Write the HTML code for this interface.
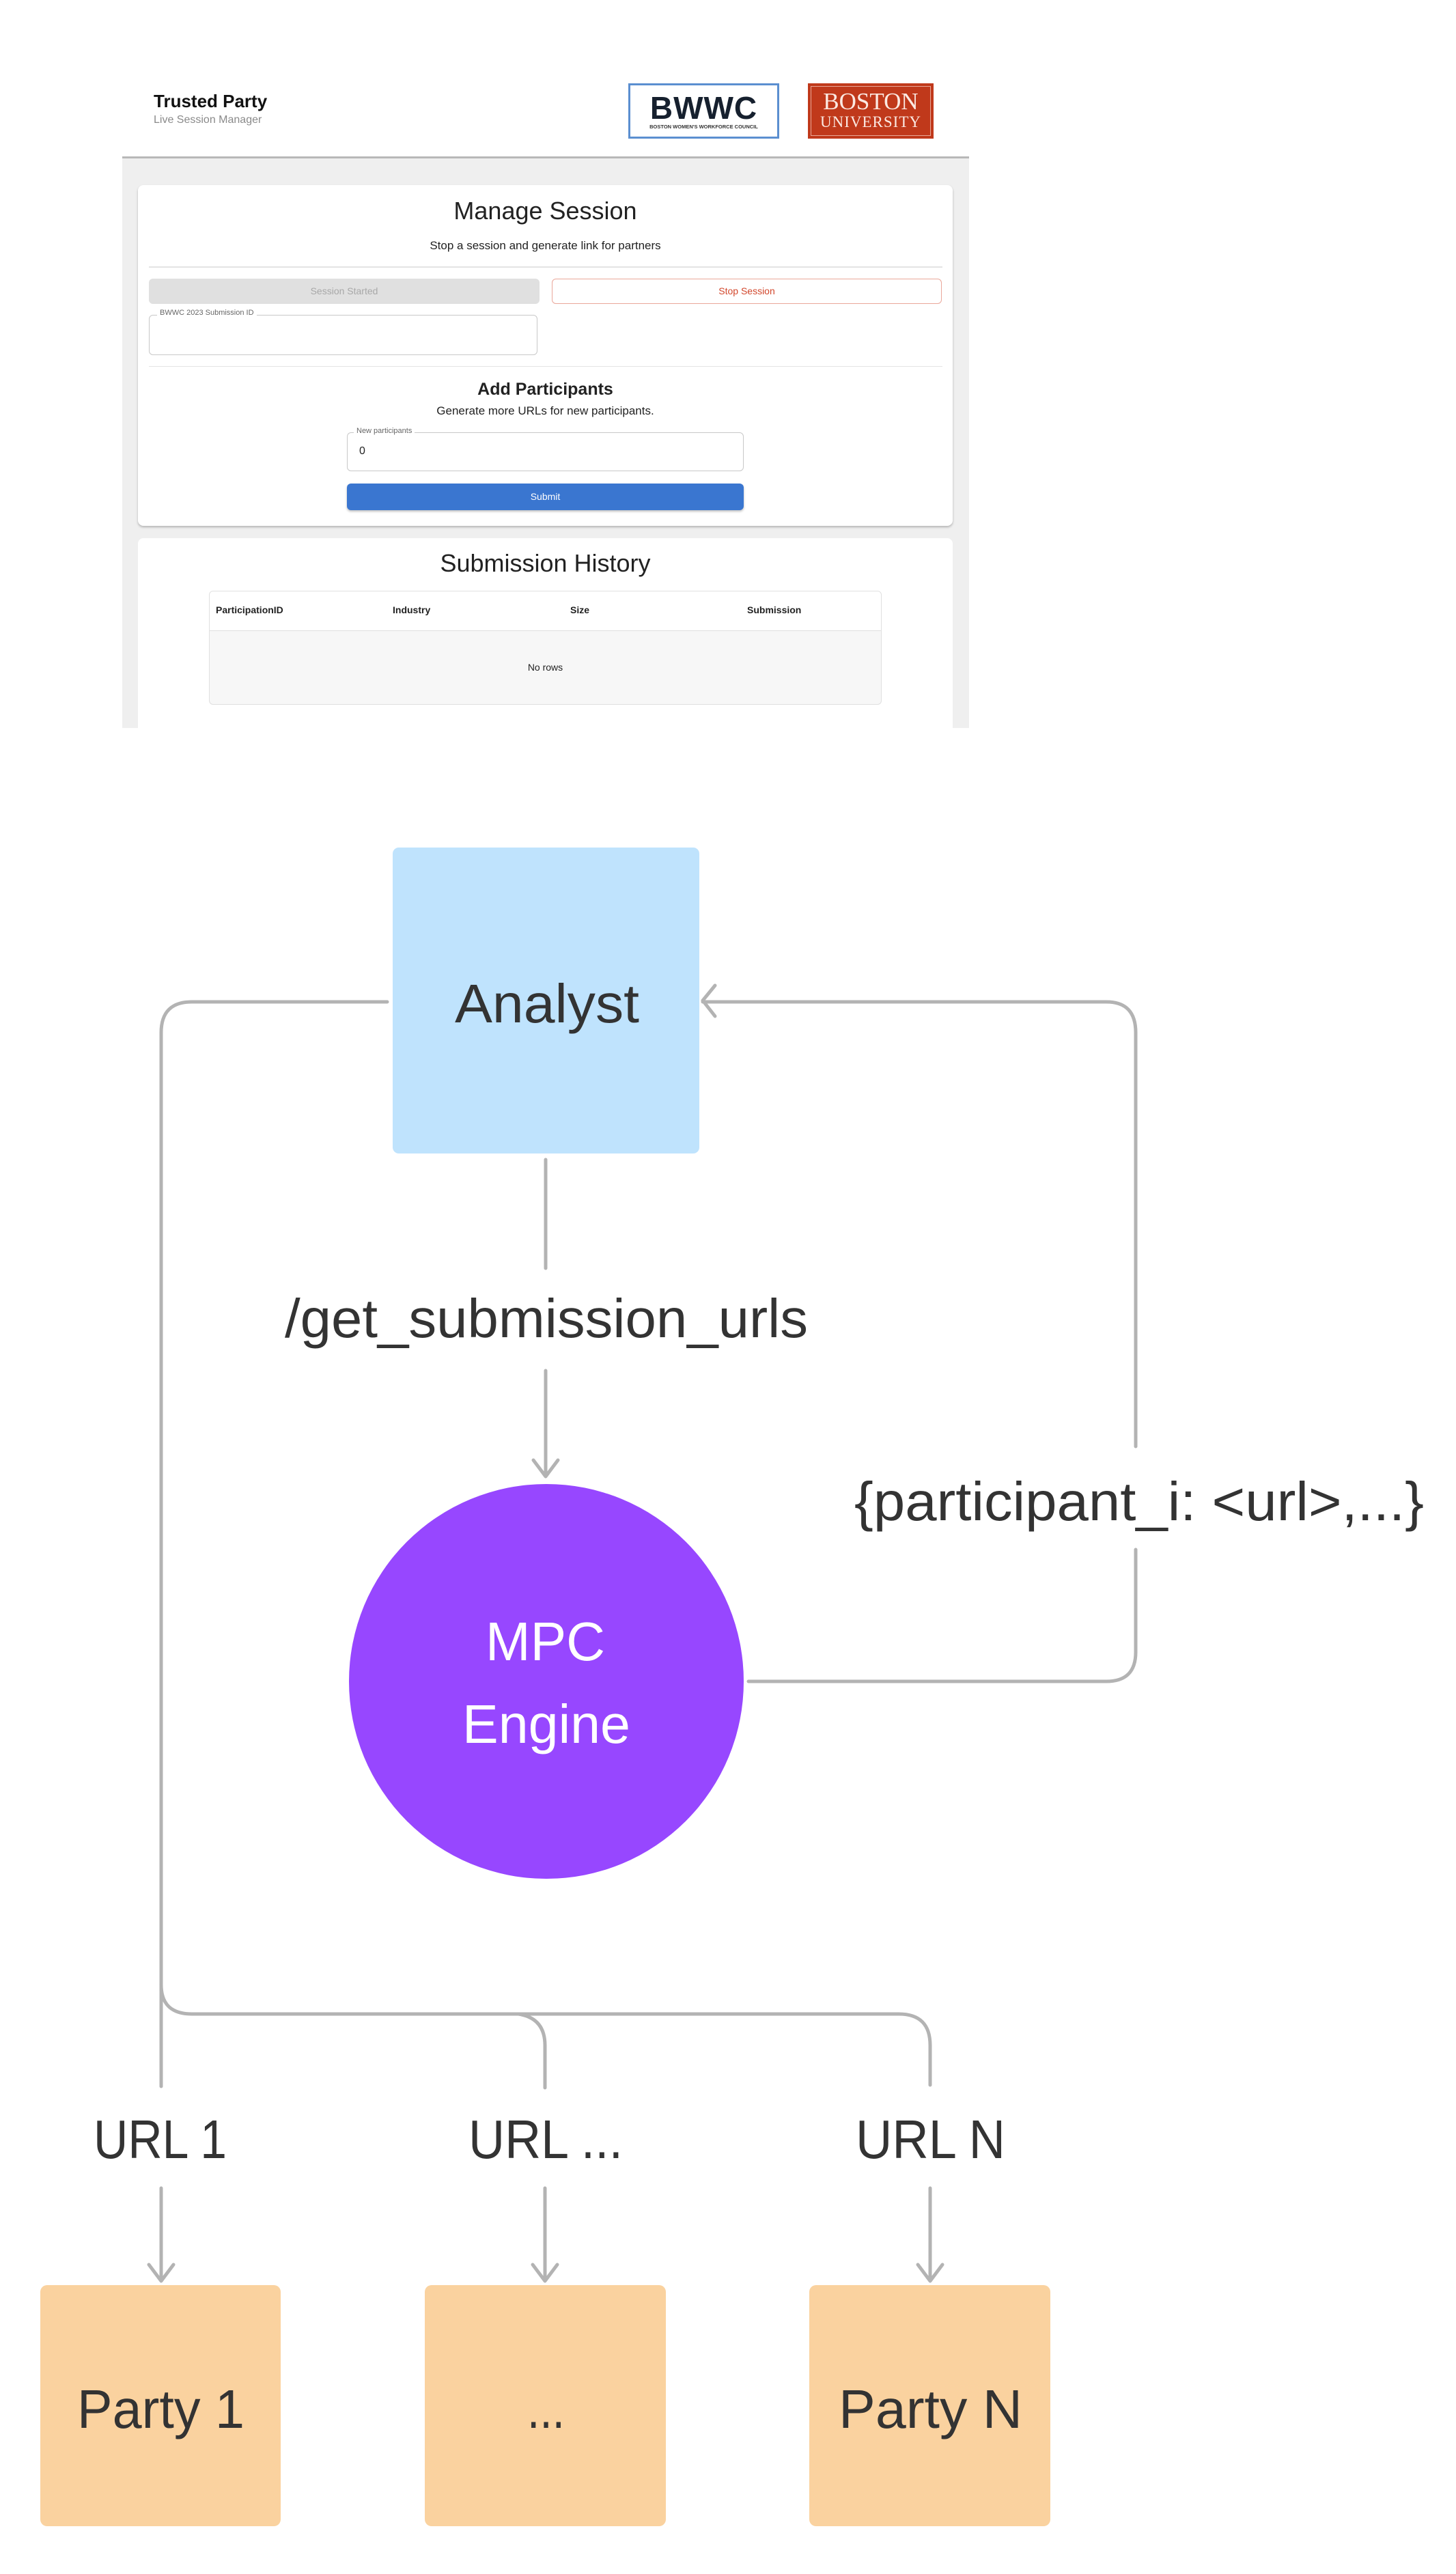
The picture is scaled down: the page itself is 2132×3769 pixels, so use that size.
<!DOCTYPE html>
<html><head><meta charset="utf-8">
<style>
html,body{margin:0;padding:0;background:#fff;}
body{width:2132px;height:3769px;position:relative;overflow:hidden;font-family:"Liberation Sans",Arial,sans-serif;}
.a{position:absolute;}
.c{text-align:center;}
</style></head><body>
<!-- screenshot panel -->
<div class="a" style="left:179px;top:95px;width:1240px;height:135px;background:#fff;"></div>
<div class="a" style="left:179px;top:229px;width:1240px;height:837px;background:#efefef;border-top:3px solid #b8b8b8;box-sizing:border-box;"></div>
<div class="a" style="left:225px;top:133px;font-size:26px;font-weight:bold;color:#111;">Trusted Party</div>
<div class="a" style="left:225px;top:167px;font-size:16px;color:#8a8a8a;">Live Session Manager</div>
<div class="a" style="left:920px;top:122px;width:221px;height:81px;border:3px solid #5b8fd0;box-sizing:border-box;background:#fff;">
 <div class="a c" style="left:0;top:6px;width:215px;font-size:46px;font-weight:bold;color:#16202e;letter-spacing:1px;">BWWC</div>
 <div class="a c" style="left:0;top:56px;width:215px;font-size:7.5px;font-weight:bold;color:#333;">BOSTON WOMEN'S WORKFORCE COUNCIL</div>
</div>
<div class="a" style="left:1183px;top:122px;width:184px;height:81px;background:#c0391b;">
 <div class="a" style="left:4px;top:4px;width:174px;height:71px;border:1px solid #e8a898;"></div>
 <div class="a c" style="left:0;top:7px;width:184px;font-family:'Liberation Serif',serif;font-size:35px;color:#fbe9e2;">BOSTON</div>
 <div class="a c" style="left:0;top:44px;width:184px;font-family:'Liberation Serif',serif;font-size:23px;color:#fbe9e2;letter-spacing:1px;">UNIVERSITY</div>
</div>
<!-- card 1 -->
<div class="a" style="left:202px;top:271px;width:1193px;height:499px;background:#fff;border-radius:8px;box-shadow:0 2px 3px rgba(0,0,0,.25);"></div>
<div class="a c" style="left:202px;top:288px;width:1193px;font-size:36px;color:#222;">Manage Session</div>
<div class="a c" style="left:202px;top:350px;width:1193px;font-size:17px;color:#222;">Stop a session and generate link for partners</div>
<div class="a" style="left:218px;top:390px;width:1162px;height:2px;background:#e4e4e4;"></div>
<div class="a c" style="left:218px;top:408px;width:572px;height:37px;line-height:37px;background:#e0e0e0;border-radius:6px;font-size:14px;color:#a8a8a8;">Session Started</div>
<div class="a c" style="left:808px;top:408px;width:571px;height:37px;line-height:35px;border:1.5px solid #eaa79a;box-sizing:border-box;border-radius:6px;font-size:14px;color:#d2472c;">Stop Session</div>
<div class="a" style="left:218px;top:461px;width:569px;height:59px;border:1.5px solid #c8c8c8;box-sizing:border-box;border-radius:6px;"></div>
<div class="a" style="left:230px;top:452px;padding:0 4px;background:#fff;font-size:11px;color:#666;">BWWC 2023 Submission ID</div>
<div class="a" style="left:218px;top:536px;width:1162px;height:1px;background:#e4e4e4;"></div>
<div class="a c" style="left:202px;top:556px;width:1193px;font-size:25px;font-weight:bold;color:#222;">Add Participants</div>
<div class="a c" style="left:202px;top:592px;width:1193px;font-size:17px;color:#222;">Generate more URLs for new participants.</div>
<div class="a" style="left:508px;top:633px;width:581px;height:57px;border:1.5px solid #c8c8c8;box-sizing:border-box;border-radius:6px;"></div>
<div class="a" style="left:518px;top:625px;padding:0 4px;background:#fff;font-size:11px;color:#666;">New participants</div>
<div class="a" style="left:526px;top:652px;font-size:16px;color:#222;">0</div>
<div class="a c" style="left:508px;top:708px;width:581px;height:39px;line-height:39px;background:#3a76d0;border-radius:6px;font-size:14px;color:#fff;box-shadow:0 2px 3px rgba(0,0,0,.25);">Submit</div>
<!-- card 2 -->
<div class="a" style="left:202px;top:788px;width:1193px;height:290px;background:#fff;border-radius:8px;"></div>
<div class="a c" style="left:202px;top:804px;width:1193px;font-size:36px;color:#222;">Submission History</div>
<div class="a" style="left:306px;top:865px;width:985px;height:167px;border:1px solid #e0e0e0;box-sizing:border-box;border-radius:6px;background:#f7f7f7;overflow:hidden;">
 <div class="a" style="left:0;top:0;width:985px;height:57px;background:#fff;border-bottom:1px solid #e0e0e0;"></div>
</div>
<div class="a" style="left:316px;top:885px;font-size:14px;font-weight:bold;color:#222;">ParticipationID</div>
<div class="a" style="left:575px;top:885px;font-size:14px;font-weight:bold;color:#222;">Industry</div>
<div class="a" style="left:835px;top:885px;font-size:14px;font-weight:bold;color:#222;">Size</div>
<div class="a" style="left:1094px;top:885px;font-size:14px;font-weight:bold;color:#222;">Submission</div>
<div class="a c" style="left:306px;top:969px;width:985px;font-size:14px;color:#222;">No rows</div>

<!-- diagram -->
<svg class="a" style="left:0;top:0" width="2132" height="3769" viewBox="0 0 2132 3769">
<g fill="none" stroke="#b3b3b3" stroke-width="5" stroke-linecap="round" stroke-linejoin="round">
 <path d="M567 1467 H281 Q236 1467 236 1512 V3055"/>
 <path d="M236 2906 Q236 2949 281 2949 H1316 Q1362 2949 1362 2995 V3053"/>
 <path d="M759 2949 Q798 2955 798 2995 V3057"/>
 <path d="M799 1698 V1857"/>
 <path d="M799 2007 V2162 M781 2138 L799 2162 L817 2138"/>
 <path d="M1096 2462 H1620 Q1663 2462 1663 2419 V2269"/>
 <path d="M1663 2118 V1512 Q1663 1467 1620 1467 H1029 M1047 1443 L1029 1465 L1047 1488"/>
 <path d="M236 3204 V3340 M218 3316 L236 3340 L254 3316"/>
 <path d="M798 3204 V3340 M780 3316 L798 3340 L816 3316"/>
 <path d="M1362 3204 V3340 M1344 3316 L1362 3340 L1380 3316"/>
</g>
<rect x="575" y="1241" width="449" height="448" rx="9" fill="#bfe3fd"/>
<circle cx="800" cy="2462" r="289" fill="#9747ff"/>
<rect x="59" y="3346" width="352" height="353" rx="10" fill="#fad29f"/>
<rect x="622" y="3346" width="353" height="353" rx="10" fill="#fad29f"/>
<rect x="1185" y="3346" width="353" height="353" rx="10" fill="#fad29f"/>
<g font-family="Liberation Sans, Arial, sans-serif" font-size="80" fill="#333">
 <text x="666" y="1497" textLength="270" lengthAdjust="spacingAndGlyphs">Analyst</text>
 <text x="417" y="1958" textLength="766" lengthAdjust="spacingAndGlyphs">/get_submission_urls</text>
 <text x="1251" y="2226" textLength="834" lengthAdjust="spacingAndGlyphs">{participant_i: &lt;url&gt;,...}</text>
 <text x="137" y="3160" textLength="195" lengthAdjust="spacingAndGlyphs">URL 1</text>
 <text x="686" y="3160" textLength="226" lengthAdjust="spacingAndGlyphs">URL ...</text>
 <text x="1253" y="3160" textLength="219" lengthAdjust="spacingAndGlyphs">URL N</text>
 <text x="113" y="3555" textLength="245" lengthAdjust="spacingAndGlyphs">Party 1</text>
 <text x="772" y="3555" textLength="55" lengthAdjust="spacingAndGlyphs">...</text>
 <text x="1228" y="3555" textLength="269" lengthAdjust="spacingAndGlyphs">Party N</text>
 <text x="711" y="2431" fill="#fff" textLength="175" lengthAdjust="spacingAndGlyphs">MPC</text>
 <text x="677" y="2552" fill="#fff" textLength="246" lengthAdjust="spacingAndGlyphs">Engine</text>
</g>
</svg>
</body></html>
